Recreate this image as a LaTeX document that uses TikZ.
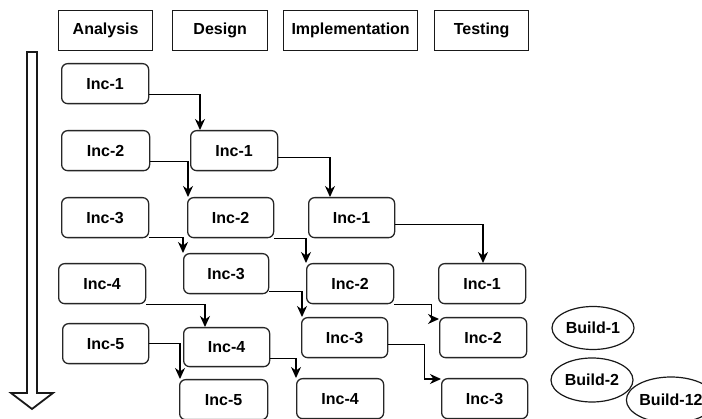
\documentclass[tikz,border=0pt]{standalone}
\usepackage{fontspec}
\setmainfont{Liberation Sans}
\usetikzlibrary{arrows.meta,shapes.geometric}
\begin{document}
\begin{tikzpicture}[x=1pt,y=-1pt,
  every node/.style={font=\fontsize{16}{19}\selectfont\bfseries, inner sep=0pt},
  phase/.style={draw=black!90, line width=1.3pt, anchor=north west, minimum height=40pt},
  inc/.style={draw=black!85, line width=1.3pt, rounded corners=6pt, anchor=north west,
              minimum height=40pt, minimum width=87pt},
  build/.style={draw=black!90, line width=1.2pt, ellipse, minimum width=82pt, minimum height=43pt},
  conn/.style={draw=black, line width=1.2pt, -{Stealth[length=11pt,width=10pt,inset=3.5pt]}}]
  \useasboundingbox (0,0) rectangle (702,419);
  \clip (0,0) rectangle (702,419);
  \fill[white] (0,0) rectangle (702,419);

  % phase headers
  \node[phase, minimum width=94pt]  (hA) at (58,10)  {Analysis};
  \node[phase, minimum width=95pt]  (hD) at (172,10) {Design};
  \node[phase, minimum width=134pt] (hI) at (283,10) {Implementation};
  \node[phase, minimum width=94pt]  (hT) at (434,10) {Testing};

  % time arrow
  \draw[line width=1.8pt, black!90, line join=miter]
    (27,52) -- (37,52) -- (37,393) -- (53,393) -- (32,409) -- (11,393) -- (27,393) -- cycle;

  % analysis column
  \node[inc] (a1) at (61,63)  {Inc-1};
  \node[inc, minimum width=88pt] (a2) at (61,130) {Inc-2};
  \node[inc] (a3) at (61,197) {Inc-3};
  \node[inc] (a4) at (58,263) {Inc-4};
  \node[inc, minimum width=86pt] (a5) at (62,323) {Inc-5};

  % design column
  \node[inc] (b1) at (190,130) {Inc-1};
  \node[inc, minimum width=86pt] (b2) at (187,197) {Inc-2};
  \node[inc, minimum width=85pt] (b3) at (183,253) {Inc-3};
  \node[inc, minimum width=86pt, minimum height=39pt] (b4) at (183,327) {Inc-4};
  \node[inc, minimum width=88pt] (b5) at (179,379) {Inc-5};

  % implementation column
  \node[inc, minimum width=86pt] (c1) at (308,197) {Inc-1};
  \node[inc] (c2) at (306,263) {Inc-2};
  \node[inc, minimum width=86pt] (c3) at (301,317) {Inc-3};
  \node[inc] (c4) at (296,378) {Inc-4};

  % testing column
  \node[inc] (d1) at (438,263) {Inc-1};
  \node[inc] (d2) at (439,317) {Inc-2};
  \node[inc, minimum width=86pt] (d3) at (441,378) {Inc-3};

  % builds
  \node[build] (g1) at (593,328) {Build-1};
  \node[build, minimum height=44pt] (g2) at (592,380) {Build-2};
  \node[build, minimum height=46pt] (g12) at (671,400) {Build-12};

  % flow between phases
  \draw[conn] ([yshift=10pt]a1.south east) -| ([xshift=10pt]b1.north west);
  \draw[conn] ([yshift=10pt]a2.south east) -| ([xshift=1pt]b2.north west);
  \draw[conn] ([yshift=14pt]b1.south east) -| ([xshift=22pt]c1.north west);
  \draw[conn] ([yshift=1pt]a3.south east) -| ([xshift=0pt]b3.north west);
  \draw[conn] ([yshift=0pt]b2.south east) -| ([xshift=0pt]c2.north west);
  \draw[conn] ([yshift=14pt]c1.south east) -| ([xshift=45pt]d1.north west);
  \draw[conn] ([yshift=0pt]a4.south east) -| ([xshift=22pt]b4.north west);
  \draw[conn] ([yshift=3pt]b3.south east) -| ([xshift=1pt]c3.north west);
  \draw[conn] (c2.south east) -- ++(37,0) |- ([yshift=-2pt]d2.north west);
  \draw[conn] ([yshift=14pt]c3.south east) -- ++(36,0) |- ([yshift=-1pt]d3.north west);
  \draw[conn] ([yshift=21pt]a5.south east) -| ([xshift=1pt]b5.north west);
  \draw[conn] ([yshift=9pt]b4.south east) -| ([xshift=0pt]c4.north west);
\end{tikzpicture}
\end{document}
